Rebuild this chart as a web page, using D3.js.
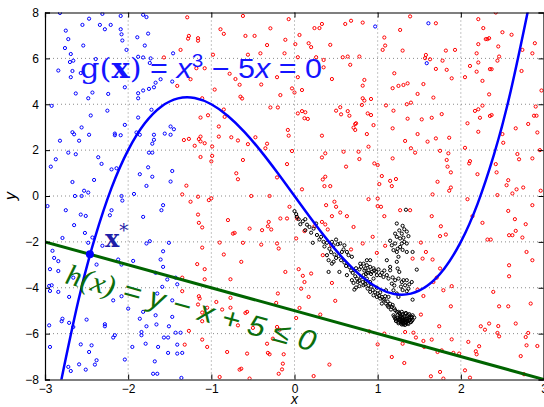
<!DOCTYPE html>
<html>
<head>
<meta charset="utf-8">
<script src="https://cdn.jsdelivr.net/npm/d3@7"></script>
<style>
  body { margin: 0; background: #fff; }
  svg { display: block; }
  .tick text { font-family: "Liberation Sans", Arial, sans-serif; font-size: 12px; }
</style>
</head>
<body>
<div id="vis"></div>
<script>
// axis ticks
var xTicks = [-3, -2, -1, 0, 1, 2, 3];
var yTicks = [-8, -6, -4, -2, 0, 2, 4, 6, 8];

// g(x) = x^3 - 5x, sampled
var curveX = [-2.82, -2.8, -2.6, -2.4, -2.2, -2.0, -1.8, -1.6, -1.4, -1.2, -1.0, -0.8, -0.6, -0.4, -0.2, 0,
              0.2, 0.4, 0.6, 0.8, 1.0, 1.2, 1.4, 1.6, 1.8, 2.0, 2.2, 2.4, 2.6, 2.8, 2.82];
var curveY = [-8.33, -7.952, -4.576, -1.824, 0.352, 2, 3.168, 3.904, 4.256, 4.272, 4, 3.488, 2.784, 1.936, 0.992, 0,
              -0.992, -1.936, -2.784, -3.488, -4, -4.272, -4.256, -3.904, -3.168, -2, -0.352, 1.824, 4.576, 7.952, 8.33];

// h: line through these two points
var lineX = [-3, 3];
var lineY = [-2, -8];

// the point x*
var starPt = [-2.46, -2.54];

// scattered samples
var bluePts = [[-2.82,7.98],[-2.31,7.94],[-2.55,7.46],[-2.47,7.73],[-2.34,7.46],[-2.28,7.27],[-2.21,7.46],[-2.09,7.27],[-2.09,7.85],[-1.82,7.9],[-1.78,7.8],[-2.75,7.21],[-2.72,6.84],[-2.76,6.45],[-2.54,6.56],[-2.69,6.19],[-2.70,5.84],[-2.66,5.9],[-2.84,5.47],[-2.67,5.45],[-2.69,5.18],[-2.57,5.36],[-2.39,5.97],[-2.63,4.47],[-2.48,4.26],[-2.43,4.51],[-2.24,4.45],[-2.08,7.05],[-2.07,6.78],[-2.02,6.37],[-1.89,6.92],[-1.76,7.08],[-1.80,6.56],[-1.88,6.07],[-1.82,6.04],[-1.73,6.0],[-1.74,5.8],[-1.46,6.22],[-1.88,4.48],[-1.88,4.26],[-1.82,4.6],[-1.75,4.67],[-1.69,4.74],[-1.67,4.94],[-1.61,5.09],[-1.47,4.99],[-2.04,4.74],[-2.92,3.93],[-2.82,2.41],[-2.93,1.28],[-2.87,1.6],[-2.72,1.89],[-2.63,1.82],[-2.67,2.78],[-2.65,2.69],[-2.59,2.41],[-2.56,2.99],[-2.47,2.67],[-2.45,3.51],[-2.25,3.72],[-2.36,1.69],[-2.32,1.4],[-2.41,0.7],[-2.67,0.61],[-2.53,0.23],[-2.48,0.15],[-2.64,0.0],[-2.56,0.0],[-2.2,1.16],[-2.14,1.21],[-2.16,2.72],[-2.16,2.65],[-2.09,2.65],[-2.04,3.1],[-2.08,0.0],[-1.93,0.09],[-1.88,3.42],[-1.9,2.77],[-1.86,2.67],[-1.72,3.76],[-1.69,2.67],[-1.69,2.45],[-1.71,2.28],[-1.75,1.89],[-1.71,1.89],[-1.76,1.25],[-1.71,0.84],[-1.86,0.95],[-1.78,0.44],[-1.56,2.72],[-1.49,3.03],[-1.45,2.91],[-1.49,2.67],[-1.47,1.09],[-1.49,0.63],
  [-2.97,-0.44],[-2.75,-0.62],[-2.57,-0.81],[-2.51,-0.87],[-2.65,-1.27],[-2.22,-0.84],[-2.2,-0.62],[-2.07,-0.2],[-2.52,-1.61],[-2.79,-1.83],[-2.43,-1.81],[-2.48,-2.04],[-2.31,-2.17],[-2.91,-2.39],[-2.89,-2.7],[-2.84,-2.84],[-2.94,-3.19],[-2.84,-3.27],[-2.66,-3.56],[-2.38,-2.99],[-2.12,-2.77],[-2.08,-2.99],[-1.94,-2.83],[-2.95,-3.92],[-2.92,-3.89],[-2.94,-4.14],[-2.84,-4.18],[-2.71,-4.4],[-2.95,-5.64],[-2.79,-5.35],[-2.8,-5.46],[-2.94,-6.58],[-2.71,-5.53],[-2.66,-5.71],[-2.5,-5.39],[-2.57,-6.47],[-2.72,-7.45],[-2.69,-7.63],[-2.59,-7.34],[-2.51,-7.57],[-2.47,-6.8],[-2.44,-6.51],[-2.4,-7.35],[-2.38,-7.16],[-2.28,-5.59],[-2.28,-5.68],[-2.18,-4.55],[-2.18,-6.17],[-2.16,-6.07],[-2.08,-4.37],[-2.04,-7.13],[-2.0,-4.91],[-1.95,-6.58],[-1.86,-5.35],[-1.82,-5.05],[-1.78,-5.68],[-1.79,-6.44],[-1.84,-5.93],[-1.84,-6.07],[-1.67,-5.2],[-1.66,-5.6],[-1.65,-4.25],[-1.59,-3.96],[-1.53,-3.64],[-1.58,-3.09],[-1.61,-2.77],[-1.67,-3.35],[-1.47,-4.55],[-1.47,-5.27],[-1.51,-5.68],[-1.57,-6.17],[-1.52,-6.17],[-1.64,-6.58],[-1.68,-7.21],[-1.7,-7.75],[-1.65,-7.75],[-1.52,-6.84],[-1.41,-6.48],[-1.41,-6.87],[-1.35,-6.84],[-1.43,-5.96],[-1.37,-5.96],[-1.41,-3.85],[-1.43,-3.56],[-1.36,-7.93],[-1.6,-0.62],[-1.58,-0.4],[-1.82,-0.91],[-1.78,-2.07],[-1.74,-1.97],[-1.51,-2.04],[-1.58,-2.41],
  [1.59,5.79],[1.61,7.53],[0.97,7.39]];

var redPts = [[-1.29,7.79],[-1.27,6.98],[-1.28,6.86],[-1.16,6.88],[-1.16,6.77],[-1.37,6.37],[-1.57,6.04],[-1.18,5.57],[-1.08,5.57],[-1.25,5.09],[-1.41,4.8],[-1.11,4.26],[-0.98,6.16],[-0.89,7.27],[-0.85,7.07],[-0.62,7.85],[-0.59,6.98],[-0.48,6.98],[-0.29,7.31],[-0.33,6.58],[-0.41,6.22],[-0.56,6.16],[-0.78,5.33],[-0.71,5.1],[-0.66,4.85],[-0.65,4.33],[-0.63,4.25],[-0.96,4.64],[-0.40,4.86],[-0.21,5.18],[-0.17,4.4],[-0.29,3.86],[-0.2,3.86],[-0.85,3.77],[-0.84,3.45],[-0.91,3.03],[-0.91,2.59],[-0.76,2.56],[-0.68,2.42],[-0.56,2.26],[-0.47,2.56],[-0.33,2.28],[-0.35,2.08],[-0.62,1.57],[-0.7,0.99],[-0.68,0.73],[-1.04,3.52],[-1.13,3.42],[-1.13,2.59],[-1.15,2.48],[-1.13,2.38],[-1.08,2.3],[-1.2,2.19],[-1.33,2.44],[-1.27,2.49],[-0.99,2.16],[-0.99,1.75],[-1.0,1.51],[-1.13,1.7],[-1.3,0.45],[-1.35,0.07],[-1.16,-0.03],[-1.0,-0.1],[-0.52,0],[-0.21,0.81],[-0.3,0],
  [-0.07,7.71],[-0.11,6.81],[-0.12,6.22],[0.06,7.02],[0.01,6.62],[0.17,6.66],[0.2,6.49],[0.24,7.32],[0.3,7.32],[0.33,7.5],[0.43,6.59],[0.26,6.05],[0.04,6.05],[0.35,5.93],[0.35,5.61],[0.04,5.18],[0.45,5.1],[-0.03,4.69],[0.09,4.62],[0.0,4.51],[0.61,7.5],[0.68,7.64],[0.82,7.56],[0.58,6.05],[0.64,6.08],[0.67,5.72],[0.78,6.08],[0.84,5.06],[0.82,4.81],[0.82,4.26],[0.84,4.16],[0.81,3.97],[0.92,4.23],[0.04,3.6],[0.09,3.7],[0.13,3.65],[0.12,3.39],[0.16,3.36],[0.5,3.72],[0.55,3.87],[0.56,3.56],[0.64,3.7],[0.66,3.5],[0.73,3.14],[0.71,2.98],[0.73,2.88],[0.74,3.17],[0.88,3.6],[0.92,3.53],[0.95,3.09],[-0.08,2.88],[-0.07,2.63],[0.33,2.63],[0.87,2.7],[0.89,2.15],[-0.03,1.96],[0.37,1.86],[0.33,1.68],[0.59,1.93],[0.77,1.93],[0.78,1.61],[0.62,1.28],[0.96,1.42],[1.0,1.35],[-0.09,1.39],[0.37,0.84],[0.34,0.72],[0.36,0.43],[0.43,0.43],[0.09,0.29],[0.89,-0.14],[1.0,-0.11],[1.05,0.87],[1.02,0.52],[1.15,0.66],[1.17,0.43],[1.22,0.74],[1.18,1.64],[1.06,6.37],[1.08,6.91],[1.09,6.56],[1.27,7.24],[1.39,7.83],[1.3,6.34],[1.2,5.35],[1.18,4.7],[1.25,4.8],[1.31,4.84],[1.36,4.91],[1.1,3.95],[1.19,3.72],[1.35,4.0],[1.4,4.07],[1.36,3.37],[1.48,4.45],[1.55,4.88],[1.58,6.15],[1.57,6.01],[1.63,5.96],[1.7,7.53],[1.7,5.54],[1.78,5.9],[1.82,6.34],[1.93,6.37],[1.83,5.5],[1.89,5.13],[1.67,4.29],[1.77,3.57],[1.53,3.34],[1.65,3.41],[1.48,2.7],[1.33,2.4],[1.4,2.08],[1.45,1.89],[1.6,2.37],[1.7,2.51],[1.86,2.54],[1.18,2.95],[1.75,1.97],[1.85,1.86],[1.83,1.57],[1.84,1.28],[1.88,1.03],[1.72,0.62],[1.88,0.37],[1.86,0.23],[1.66,0.07],
  [2.21,7.71],[2.42,8.0],[2.27,7.32],[2.32,6.84],[2.3,6.84],[2.34,6.88],[2.21,6.62],[2.5,7.14],[2.61,7.03],[2.45,6.52],[2.19,6.22],[2.46,6.08],[2.44,5.9],[2.21,5.82],[2.11,5.67],[2.19,5.42],[2.05,5.18],[2.35,5.53],[2.37,5.53],[2.26,5.02],[2.34,4.43],[2.26,3.94],[2.17,3.71],[2.21,3.78],[2.23,3.41],[2.35,3.49],[2.37,3.53],[2.08,3.17],[2.21,2.8],[2.05,2.1],[2.11,1.52],[2.1,1.42],[2.2,0.95],[2.42,1.39],[2.43,1.03],[2.57,0.69],[2.55,0.47],[2.62,0.11],[2.67,0.29],[2.75,0.37],[2.44,0.04],[2.08,-0.14],[2.5,2.7],[2.51,2.32],[2.66,2.95],[2.68,1.83],[2.7,1.6],[2.86,1.64],[2.81,3.14],[2.74,6.37],[2.73,5.45],[2.86,6.22],[2.89,6.66],[2.9,3.9],[2.88,3.5],[2.91,3.5],[2.92,2.77],[2.97,4.6],[2.95,2.0],[2.96,0.23],
  [-1.25,-0.25],[-1.03,-0.18],[-1.16,-0.81],[-1.15,-1.17],[-1.11,-1.37],[-0.8,-1.05],[-0.74,-1.64],[-0.72,-1.61],[-0.54,-1.42],[-0.39,-1.49],[-0.32,-1.32],[-0.31,-1.13],[-0.28,-1.46],[-0.21,-2.07],[-0.19,-2.29],[-0.9,-2.03],[-0.62,-2.04],[-0.4,-2.12],[-1.11,-2.25],[-1.17,-2.97],[-1.08,-3.19],[-0.85,-2.55],[-0.64,-2.87],[-1.08,-3.63],[-0.77,-3.63],[-1.35,-3.56],[-1.35,-4.15],[-1.15,-4.37],[-1.14,-4.47],[-1.16,-4.73],[-1.11,-5.08],[-1.11,-5.46],[-1.05,-4.87],[-0.94,-4.62],[-0.87,-4.95],[-0.77,-4.87],[-0.77,-4.44],[-0.59,-5.1],[-0.57,-5.05],[-0.5,-5.75],[-0.68,-5.64],[-1.27,-5.88],[-1.32,-6.48],[-1.11,-6.26],[-1.05,-6.58],[-0.81,-6.8],[-0.57,-6.87],[-0.66,-7.57],[-0.64,-7.53],[-0.9,-7.89],[-0.54,-7.96],[-0.33,-6.44],[-0.32,-6.84],[-0.3,-6.9],[-0.26,-6.22],[-0.21,-5.71],[-0.18,-5.83],[-0.2,-4.25],[-0.22,-4.66],[-0.19,-7.75],
  [-0.06,-0.47],[-0.17,-0.98],[-0.09,-0.98],[0.03,-0.98],[0.02,-1.85],[-0.11,-3.31],[0.05,-3.19],[0.1,-3.48],[0.08,-4.04],[0.12,-3.75],[0.17,-4.4],[0.06,-4.88],[0.31,-5.17],[0.02,-5.32],[-0.13,-6.9],[-0.14,-7.31],[-0.15,-7.56],[0.23,-7.85],[0.42,-7.35],[0.48,-0.25],[0.5,-0.47],[0.55,-0.72],[0.63,-0.88],[0.71,-1.35],[0.38,-0.4],[0.45,-0.88],[0.33,-1.13],[0.37,-1.24],[0.4,-1.46],[0.24,-1.32],[0.12,-1.53],[0.44,-2.15],[0.34,-2.58],[0.2,-3.38],[0.45,-3.79],[0.49,-4.57],[0.68,-2.33],[0.82,-2.07],[0.94,-1.78],[0.99,-2.48],[1.09,-2.17],[1.04,-0.47],[1.08,-0.88],[1.0,-0.44],[1.27,-0.62],[1.39,-0.62],[1.65,-0.88],[1.76,-1.32],[1.82,-1.68],[1.75,-1.75],[1.52,-2.03],[1.58,-2.44],[1.66,-2.77],[1.75,-3.16],[1.71,-3.56],[1.67,-3.75],[1.54,-2.73],[1.42,-2.73],[1.89,-3.93],[1.79,-4.11],[1.55,-4.36],[1.48,-4.08],[1.88,-4.81],[1.74,-5.68],[1.52,-5.17],[1.33,-5.93],[1.43,-5.96],[0.9,-5.9],[1.08,-6.0],[1.0,-6.47],[1.3,-6.44],[1.46,-6.17],[1.55,-6.32],[1.56,-6.58],[1.65,-6.26],[1.77,-6.73],[1.72,-6.8],[1.89,-6.25],[1.91,-6.84],[1.98,-6.87],[1.17,-7.02],[1.32,-7.28],[1.64,-7.86],[1.75,-7.67],[1.79,-7.96],[2.05,-7.6],[2.11,-7.92],[2.09,-6.36],[2.18,-6.77],[2.19,-6.9],[2.22,-6.55],[2.24,-5.68],[2.29,-5.83],[2.34,-5.56],[2.45,-5.67],[2.44,-5.97],[2.46,-6.12],[2.66,-5.56],[2.78,-6.15],[2.81,-5.97],[2.79,-6.51],[2.92,-6.54],[2.72,-6.98],[2.76,-7.77],[2.39,-4.18],[2.46,-4.81],[2.57,-4.81],[2.84,-4.69],[2.58,-3.5],[2.58,-3.02],[2.58,-1.71],[2.62,-1.71],[2.66,-1.52],[2.74,-1.81],[2.79,-2.44],[2.86,-2.8],[2.57,-0.65],[2.65,-1.01],[2.78,-1.23],[2.86,-0.4],[2.32,-1.9],[2.36,-1.9],[2.26,-1.17],[2.14,-0.88]];

var blackPts = [[0.0,-0.66],[0.02,-0.79],[0.03,-0.91],[0.05,-1.01],[0.07,-1.23],[0.13,-1.01],[0.13,-1.49],[0.23,-1.42],[0.26,-1.2],[0.22,-2.04],[0.3,-1.9],[0.35,-2.0],[0.39,-2.04],[0.45,-2.0],[0.47,-2.15],[0.52,-2.1],[0.55,-2.07],[0.59,-2.33],[0.57,-2.44],[0.63,-2.44],[0.65,-2.58],[0.69,-2.65],[0.39,-2.58],[0.41,-2.8],[0.45,-2.95],[0.47,-2.87],[0.41,-3.31],[0.54,-3.31],[0.63,-3.45],[0.69,-3.67],[0.71,-3.79],[0.72,-4.08],[0.74,-3.99],[0.79,-2.95],[0.8,-3.09],[0.83,-2.95],[0.85,-3.16],[0.87,-3.02],[0.89,-3.24],[0.91,-3.09],[0.93,-3.31],[0.96,-3.24],[0.99,-3.45],[1.03,-3.45],[1.07,-3.53],[1.11,-3.45],[1.15,-3.24],[0.83,-3.45],[0.87,-3.6],[0.91,-3.75],[0.95,-3.6],[0.76,-3.75],[0.78,-3.93],[0.83,-3.89],[0.88,-4.04],[0.91,-4.18],[0.95,-4.33],[0.99,-4.4],[1.03,-4.47],[1.07,-4.55],[1.1,-4.69],[1.05,-4.69],[1.13,-4.84],[1.17,-4.84],[1.21,-4.98],[1.25,-5.05],[1.29,-5.05],[1.33,-5.13],[1.37,-5.2],[1.41,-5.27],[1.27,-5.27],[1.31,-5.42],[1.35,-5.45],[1.39,-5.4],[1.19,-5.2],[0.99,-4.0],[1.03,-4.2],[1.09,-4.37],[1.1,-4.11],[1.13,-4.4],[1.19,-4.11],[1.23,-4.25],[1.25,-4.4],[1.17,-3.82],[1.21,-3.67],[1.25,-3.6],[1.29,-3.75],[1.31,-3.67],[1.35,-3.67],[1.33,-3.89],[1.37,-4.04],[1.41,-3.75],[1.42,-4.52],[1.24,-3.16],[1.26,-3.31],[1.23,-2.87],[1.25,-2.65],[1.23,-1.2],[1.21,-1.64],[1.23,-1.78],[1.27,-1.85],[1.29,-1.64],[1.31,-1.82],[1.32,-2.0],[1.29,-2.07],[1.27,-2.22],[1.21,-2.07],[1.17,-2.15],[1.19,-2.36],[1.23,-2.44],[1.35,-2.07],[1.34,-0.6],[1.37,-1.75],[1.35,-2.44],[1.42,-2.44],[1.47,-3.21],[1.11,-2.8],[1.15,-3.09],[0.91,-2.8],[0.87,-2.8],
  [0.1,-1.1],[0.15,-1.25],[0.18,-1.35],[0.2,-1.6],[0.27,-1.7],[0.32,-1.78],[0.36,-2.2],[0.42,-2.3],[0.44,-2.45],[0.48,-2.55],[0.5,-2.7],[0.53,-2.62],[0.56,-2.8],[0.6,-2.9],[0.62,-3.05],[0.66,-3.1],[0.68,-3.25],[0.7,-3.35],[0.73,-3.5],[0.75,-3.6],[0.78,-3.7],[0.8,-3.55],[0.82,-3.75],[0.85,-3.85],[0.86,-3.7],[0.89,-3.9],[0.92,-3.95],[0.94,-4.1],[0.97,-4.2],[1.0,-4.25],[1.02,-4.35],[1.05,-4.4],[1.08,-4.5],[1.12,-4.6],[1.15,-4.7],[1.18,-4.75],[1.2,-4.9],[1.16,-4.95],[1.12,-4.78],[0.88,-3.35],[0.92,-3.4],[0.95,-3.15],[0.98,-3.3],[1.01,-3.2],[1.05,-3.35],[1.08,-3.25],[0.84,-3.25],[0.86,-3.4],[0.78,-3.2],[0.74,-3.15],[1.13,-3.6],[1.18,-3.55],[1.2,-3.9],[1.28,-3.95],[1.3,-4.1],[1.35,-4.15],[1.38,-3.85],[1.3,-1.3],[1.32,-1.45],[1.35,-1.55],[1.26,-1.5],[1.24,-2.3],[1.3,-2.35],[1.15,-1.95],[0.6,-2.15],[0.5,-1.9],
  [1.24,-5.3],[1.27,-5.36],[1.3,-5.4],[1.32,-5.33],[1.27,-5.46],[1.33,-5.48],[1.3,-5.52],[1.36,-5.36],[1.22,-5.38],[1.28,-5.56],[1.34,-5.55],[1.38,-5.3],[1.25,-5.5],[1.31,-5.6],[1.36,-5.46],[1.2,-5.27],[1.29,-5.3],[1.33,-5.4],[1.26,-5.42],[1.3,-5.47],
  [1.23,-5.05],[1.26,-5.1],[1.3,-5.15],[1.34,-5.1],[1.38,-5.15],[1.42,-5.2],[1.44,-5.3],[1.42,-5.4],[1.4,-5.5],[1.37,-5.58],[1.33,-5.62],[1.29,-5.6],[1.25,-5.55],[1.22,-5.45],[1.21,-5.35],[1.24,-5.2],[1.28,-5.22],[1.32,-5.25],[1.36,-5.25],[1.4,-5.3],[1.38,-5.42],[1.34,-5.5],[1.29,-5.48],[1.25,-5.38],[1.3,-5.32],[1.34,-5.35],[1.27,-5.15],[1.36,-5.55],[1.31,-5.56],[1.41,-5.45]];

var W = 544, H = 407;
var margin = {top: 12.5, left: 45, bottom: 27.5, right: 0};

var x = d3.scaleLinear().domain([-3, 3]).range([margin.left, W - margin.right]);
var y = d3.scaleLinear().domain([-8, 8]).range([H - margin.bottom, margin.top]);

var svg = d3.select("#vis").append("svg")
  .attr("width", W)
  .attr("height", H);

svg.append("clipPath").attr("id", "plot-clip")
  .append("rect")
  .attr("x", x(-3)).attr("y", y(8))
  .attr("width", x(3) - x(-3)).attr("height", y(-8) - y(8));

// dotted grid
var grid = svg.append("g").attr("class", "grid");
grid.selectAll(".gx").data(xTicks.slice(1, -1)).enter().append("line")
  .attr("x1", function(d) { return x(d); }).attr("x2", function(d) { return x(d); })
  .attr("y1", y(8)).attr("y2", y(-8));
grid.selectAll(".gy").data(yTicks.slice(1, -1)).enter().append("line")
  .attr("y1", function(d) { return y(d); }).attr("y2", function(d) { return y(d); })
  .attr("x1", x(-3)).attr("x2", x(3));
grid.selectAll("line")
  .attr("stroke", "#8a8a8a")
  .attr("stroke-width", 1)
  .attr("stroke-dasharray", "1,3");

var plot = svg.append("g").attr("clip-path", "url(#plot-clip)");

function dots(data, color, cls) {
  plot.append("g").attr("class", cls)
    .selectAll("circle").data(data).enter().append("circle")
    .attr("cx", function(d) { return x(d[0]); })
    .attr("cy", function(d) { return y(d[1]); })
    .attr("r", 1.6)
    .attr("fill", "none")
    .attr("stroke", color)
    .attr("stroke-width", 1);
}
dots(bluePts, "#0000ff", "blue-pts");
dots(redPts, "#ff0000", "red-pts");
dots(blackPts, "#000", "black-pts");

// h(x) = 0 boundary
plot.append("line")
  .attr("x1", x(lineX[0])).attr("y1", y(lineY[0]))
  .attr("x2", x(lineX[1])).attr("y2", y(lineY[1]))
  .attr("stroke", "#006400")
  .attr("stroke-width", 3);

// g(x) = 0 curve
var curvePts = curveX.map(function(v, i) { return [v, curveY[i]]; });
plot.append("path")
  .datum(curvePts)
  .attr("fill", "none")
  .attr("stroke", "#0000ff")
  .attr("stroke-width", 2.5)
  .attr("d", d3.line()
    .x(function(d) { return x(d[0]); })
    .y(function(d) { return y(d[1]); })
    .curve(d3.curveNatural));

// x*
plot.append("circle")
  .attr("cx", x(starPt[0])).attr("cy", y(starPt[1]))
  .attr("r", 4)
  .attr("fill", "#0000ff");

// axes: inward ticks on all four sides
var fmt = d3.format("d");
svg.append("g")
  .attr("transform", "translate(0," + y(-8) + ")")
  .call(d3.axisBottom(x).tickValues(xTicks).tickFormat(fmt).tickSize(-5).tickPadding(5));
svg.append("g")
  .attr("transform", "translate(" + x(-3) + ",0)")
  .call(d3.axisLeft(y).tickValues(yTicks).tickFormat(fmt).tickSize(-5).tickPadding(6));
svg.append("g")
  .attr("transform", "translate(0," + y(8) + ")")
  .call(d3.axisTop(x).tickValues(xTicks).tickSize(-5).tickFormat(""));
svg.append("g")
  .attr("transform", "translate(" + (x(3) - 0.5) + ",0)")
  .call(d3.axisRight(y).tickValues(yTicks).tickSize(-5).tickFormat(""));
svg.selectAll(".domain").attr("stroke", "#000").attr("stroke-width", 1.2);
svg.selectAll(".tick line").attr("stroke", "#000");
svg.selectAll(".tick text").attr("fill", "#000");

// axis labels
svg.append("text")
  .attr("x", x(0)).attr("y", 404)
  .attr("text-anchor", "middle")
  .style("font-family", "Liberation Sans, Arial, sans-serif")
  .style("font-size", "14px")
  .style("font-style", "italic")
  .text("x");
svg.append("text")
  .attr("transform", "translate(16," + y(0) + ") rotate(-90)")
  .attr("text-anchor", "middle")
  .style("font-family", "Liberation Sans, Arial, sans-serif")
  .style("font-size", "16px")
  .style("font-style", "italic")
  .text("y");

// g(x) label
var gl = svg.append("text")
  .attr("x", 80).attr("y", 78)
  .attr("fill", "#1414ff")
  .attr("textLength", 242)
  .attr("lengthAdjust", "spacingAndGlyphs")
  .style("font-size", "28px");
gl.append("tspan").style("font-family", "DejaVu Serif, serif").text("g(");
gl.append("tspan").style("font-family", "DejaVu Serif, serif").style("font-weight", "bold").text("x");
gl.append("tspan").style("font-family", "DejaVu Serif, serif").text(")");
gl.append("tspan").style("font-family", "Liberation Sans, sans-serif").text(" = ");
gl.append("tspan").style("font-family", "Liberation Sans, sans-serif").style("font-style", "italic").text("x");
gl.append("tspan").style("font-family", "Liberation Sans, sans-serif").style("font-size", "19px").attr("dy", -11).text("3");
gl.append("tspan").style("font-family", "Liberation Sans, sans-serif").attr("dy", 11).text(" − 5");
gl.append("tspan").style("font-family", "Liberation Sans, sans-serif").style("font-style", "italic").text("x");
gl.append("tspan").style("font-family", "Liberation Sans, sans-serif").text(" = 0");

// x* label
var sl = svg.append("text")
  .attr("x", 105).attr("y", 247)
  .attr("fill", "#1e1ea8")
  .style("font-family", "DejaVu Serif, serif");
sl.append("tspan").style("font-size", "24px").style("font-weight", "bold").text("x");
sl.append("tspan").style("font-size", "18px").attr("dy", -10).text("*");

// h(x) label, along the line
var ang = Math.atan2(y(lineY[1]) - y(lineY[0]), x(lineX[1]) - x(lineX[0])) * 180 / Math.PI;
var hl = svg.append("text")
  .attr("transform", "translate(64,283) rotate(" + ang + ")")
  .attr("fill", "#0c6e0c")
  .attr("textLength", 258)
  .attr("lengthAdjust", "spacingAndGlyphs")
  .style("font-size", "29px")
  .style("font-style", "italic");
hl.append("tspan").style("font-family", "Liberation Serif, serif").text("h(x)");
hl.append("tspan").style("font-family", "Liberation Sans, sans-serif").text(" = y − x + 5 ≤ 0");
</script>
</body>
</html>
